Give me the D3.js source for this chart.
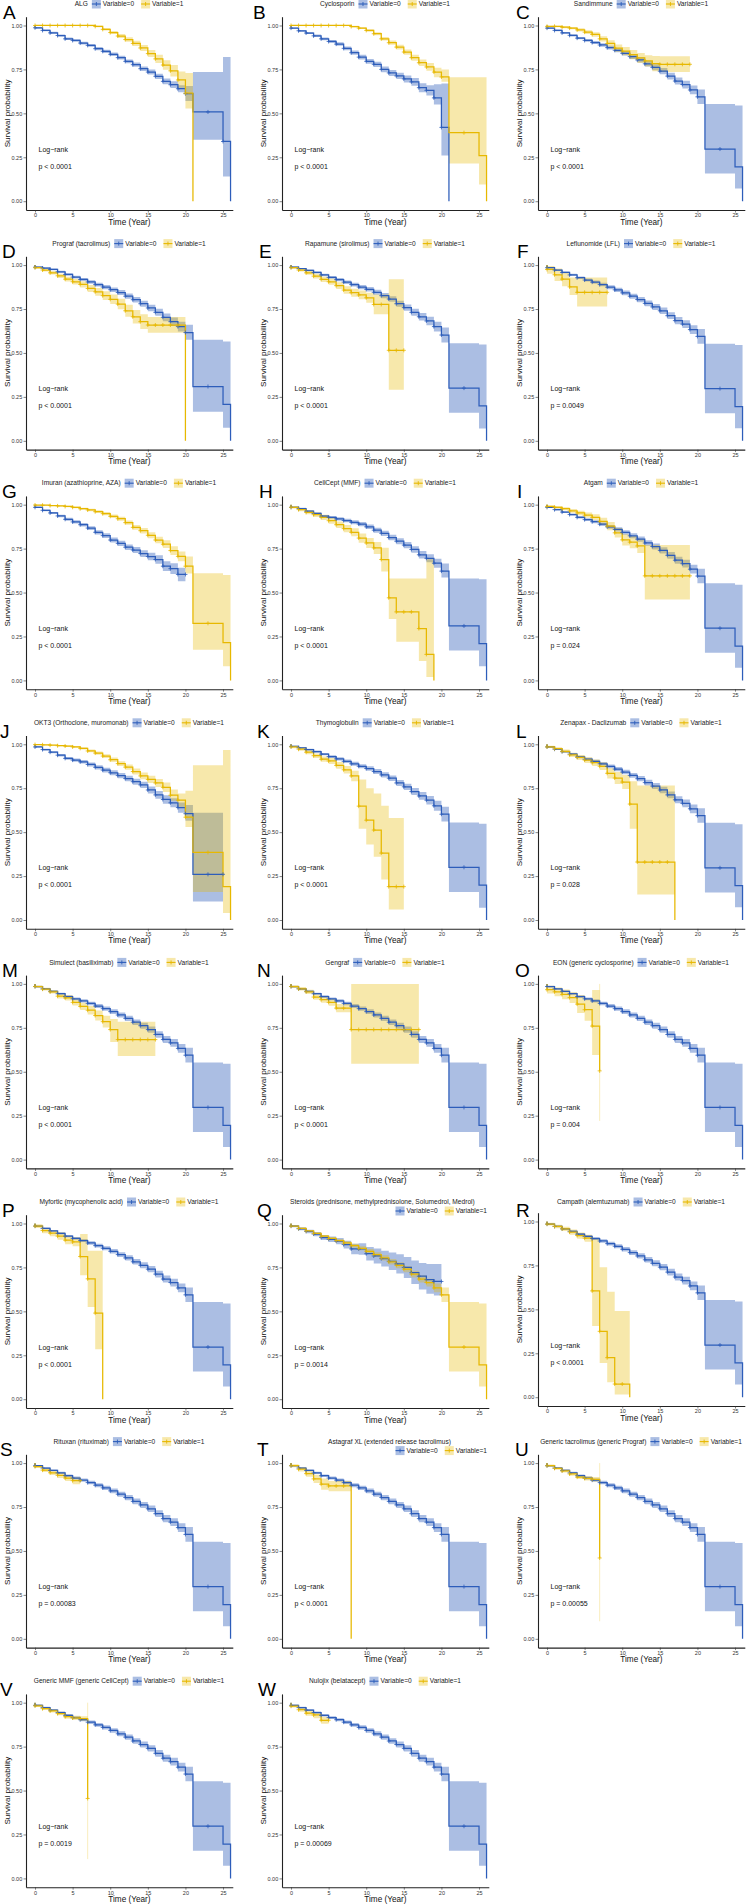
<!DOCTYPE html>
<html>
<head>
<meta charset="utf-8">
<script src="https://cdn.jsdelivr.net/npm/d3@7"></script>
<style>
  body { margin: 0; background: #fff; }
  svg { display: block; }
  text { font-family: "Liberation Sans", Arial, Helvetica, sans-serif; }
</style>
</head>
<body>
<svg id="chart" width="746" height="1904"></svg>
<script>
// ---- panel labels ----
const letters = ['A','B','C','D','E','F','G','H','I','J','K','L','M','N','O','P','Q','R','S','T','U','V','W'];
const titles = [
  'ALG', 'Cyclosporin', 'Sandimmune',
  'Prograf (tacrolimus)', 'Rapamune (sirolimus)', 'Leflunomide (LFL)',
  'Imuran (azathioprine, AZA)', 'CellCept (MMF)', 'Atgam',
  'OKT3 (Orthoclone, muromonab)', 'Thymoglobulin', 'Zenapax - Daclizumab',
  'Simulect (basiliximab)', 'Gengraf', 'EON (generic cyclosporine)',
  'Myfortic (mycophenolic acid)', 'Steroids (prednisone, methylprednisolone, Solumedrol, Medrol)', 'Campath (alemtuzumab)',
  'Rituxan (rituximab)', 'Astagraf XL (extended release tacrolimus)', 'Generic tacrolimus (generic Prograf)',
  'Generic MMF (generic CellCept)', 'Nulojix (belatacept)'
];
const pvals = [
  'p < 0.0001', 'p < 0.0001', 'p < 0.0001',
  'p < 0.0001', 'p < 0.0001', 'p = 0.0049',
  'p < 0.0001', 'p < 0.0001', 'p = 0.024',
  'p < 0.0001', 'p < 0.0001', 'p = 0.028',
  'p < 0.0001', 'p < 0.0001', 'p = 0.004',
  'p < 0.0001', 'p = 0.0014', 'p < 0.0001',
  'p = 0.00083', 'p < 0.0001', 'p = 0.00055',
  'p = 0.0019', 'p = 0.00069'
];
const xTicks = [0, 5, 10, 15, 20, 25];
const yTicks = [0, 0.25, 0.5, 0.75, 1];

// ---- survival steps: value i holds on [i, i+1) years ----
// shared Variable=0 curve (whole cohort minus a small drug group)
const baseS  = [0.985,0.972,0.958,0.944,0.928,0.915,0.903,0.889,0.874,0.859,0.842,0.823,0.804,0.782,0.762,0.740,0.712,0.684,0.664,0.633,0.594,0.297,0.297,0.297,0.297,0.195];
const baseLo = [0.981,0.967,0.953,0.938,0.921,0.907,0.894,0.879,0.863,0.847,0.829,0.809,0.789,0.766,0.745,0.722,0.693,0.664,0.642,0.608,0.553,0.157,0.157,0.157,0.157,0.072];
const baseHi = [0.989,0.977,0.963,0.950,0.935,0.923,0.912,0.899,0.885,0.871,0.855,0.837,0.819,0.798,0.779,0.758,0.731,0.704,0.686,0.658,0.636,0.553,0.553,0.553,0.553,0.545];
const baseCens = [0,1,2,3,4,5,6,7,8,9,10,11,12,13,14,15,16,17,18,19,20,23];

const A0s  = [0.987,0.972,0.958,0.943,0.924,0.915,0.900,0.887,0.868,0.853,0.836,0.817,0.796,0.777,0.754,0.735,0.711,0.682,0.663,0.640,0.612,0.508,0.508,0.508,0.508,0.340];
const A0lo = [0.983,0.967,0.952,0.937,0.917,0.908,0.892,0.879,0.859,0.844,0.826,0.806,0.785,0.765,0.741,0.721,0.696,0.665,0.644,0.620,0.570,0.350,0.350,0.350,0.350,0.140];
const A0hi = [0.991,0.977,0.964,0.949,0.931,0.922,0.908,0.895,0.877,0.862,0.846,0.828,0.807,0.789,0.767,0.749,0.726,0.699,0.682,0.660,0.655,0.735,0.735,0.735,0.735,0.820];
const A0cens = [0,1,2,3,4,5,6,7,8,9,10,11,12,13,14,15,16,17,18,19,20,23,25];
const A1s  = [1,1,1,1,1,1,1,1,0.995,0.978,0.960,0.940,0.920,0.898,0.872,0.840,0.810,0.775,0.742,0.690,0.615];
const A1lo = [0.999,0.999,0.999,0.999,0.998,0.998,0.997,0.996,0.990,0.971,0.951,0.929,0.907,0.883,0.855,0.820,0.787,0.748,0.710,0.645,0.527];
const A1hi = [1,1,1,1,1,1,1,1,0.999,0.985,0.969,0.951,0.933,0.913,0.889,0.860,0.833,0.802,0.775,0.738,0.730];
const A1cens = [0,1,2,3,4,5,6,7,8,9,10,11,12,13,14,15,16,17,18,19,20];

const B0s  = [0.985,0.970,0.957,0.941,0.924,0.909,0.894,0.870,0.845,0.820,0.796,0.779,0.750,0.730,0.713,0.696,0.679,0.646,0.631,0.588,0.420];
const B0lo = [0.981,0.965,0.951,0.934,0.916,0.900,0.884,0.859,0.833,0.807,0.782,0.764,0.734,0.713,0.695,0.676,0.657,0.620,0.602,0.550,0.260];
const B0hi = [0.989,0.975,0.963,0.948,0.932,0.918,0.904,0.881,0.857,0.833,0.810,0.794,0.766,0.747,0.731,0.716,0.701,0.672,0.660,0.665,0.670];
const B0cens = [0,1,2,3,4,5,6,7,8,9,10,11,12,13,14,15,16,17,18,19,20];
const B1s  = [1,1,1,1,1,1,1,1,0.994,0.985,0.972,0.953,0.924,0.902,0.877,0.849,0.817,0.788,0.764,0.735,0.707,0.390,0.390,0.390,0.390,0.260];
const B1lo = [0.999,0.999,0.999,0.999,0.999,0.998,0.998,0.997,0.990,0.980,0.965,0.945,0.914,0.890,0.864,0.834,0.800,0.769,0.742,0.705,0.680,0.215,0.215,0.215,0.215,0.095];
const B1hi = [1,1,1,1,1,1,1,1,0.998,0.990,0.979,0.961,0.934,0.914,0.890,0.864,0.834,0.807,0.786,0.760,0.750,0.705,0.705,0.705,0.705,0.705];
const B1cens = [0,1,2,3,4,5,6,7,8,9,10,11,12,13,14,15,16,17,18,19,20,23];

const C1s  = [0.995,0.995,0.990,0.985,0.975,0.962,0.949,0.924,0.898,0.871,0.854,0.834,0.815,0.798,0.783,0.779,0.779,0.779,0.779];
const C1lo = [0.991,0.990,0.984,0.978,0.966,0.951,0.936,0.909,0.880,0.850,0.830,0.808,0.786,0.766,0.740,0.735,0.735,0.735,0.735];
const C1hi = [0.999,0.999,0.996,0.992,0.984,0.973,0.962,0.939,0.916,0.892,0.878,0.860,0.844,0.830,0.826,0.825,0.825,0.825,0.825];
const C1cens = [0,1,2,3,4,5,6,7,8,9,10,11,12,13,14,15,16,17,18,19];

const D0s  = [0.988,0.983,0.975,0.962,0.947,0.932,0.918,0.904,0.889,0.875,0.860,0.844,0.823,0.803,0.780,0.756,0.731,0.703,0.678,0.650,0.616,0.309,0.309,0.309,0.309,0.208];
const D0lo = [0.984,0.979,0.970,0.956,0.940,0.924,0.909,0.894,0.878,0.863,0.847,0.830,0.808,0.787,0.763,0.738,0.711,0.681,0.654,0.622,0.575,0.165,0.165,0.165,0.165,0.075];
const D0hi = [0.992,0.987,0.980,0.968,0.954,0.940,0.927,0.914,0.900,0.887,0.873,0.858,0.838,0.819,0.797,0.774,0.751,0.725,0.702,0.678,0.660,0.575,0.575,0.575,0.575,0.565];
const D1s  = [0.985,0.972,0.956,0.939,0.920,0.905,0.890,0.867,0.848,0.826,0.805,0.778,0.740,0.706,0.678,0.659,0.659,0.659,0.659,0.659];
const D1lo = [0.978,0.963,0.946,0.927,0.906,0.889,0.872,0.847,0.826,0.801,0.778,0.748,0.706,0.668,0.636,0.615,0.615,0.615,0.615,0.615];
const D1hi = [0.992,0.981,0.966,0.951,0.934,0.921,0.908,0.887,0.870,0.851,0.832,0.808,0.774,0.744,0.720,0.705,0.705,0.705,0.705,0.705];
const D1cens = [0,1,2,3,4,5,6,7,8,9,10,11,12,13,14,15,16,17,18,19];

const E0s  = [0.988,0.980,0.970,0.958,0.944,0.930,0.917,0.903,0.889,0.875,0.862,0.845,0.826,0.807,0.780,0.758,0.731,0.706,0.682,0.650,0.602,0.300,0.300,0.300,0.300,0.199];
const E0lo = [0.984,0.976,0.965,0.952,0.937,0.922,0.908,0.893,0.878,0.863,0.849,0.831,0.811,0.791,0.763,0.740,0.711,0.684,0.658,0.622,0.560,0.160,0.160,0.160,0.160,0.070];
const E0hi = [0.992,0.984,0.975,0.964,0.951,0.938,0.926,0.913,0.900,0.887,0.875,0.859,0.841,0.823,0.797,0.776,0.751,0.728,0.706,0.678,0.645,0.555,0.555,0.555,0.555,0.548];
const E1s  = [0.985,0.972,0.956,0.937,0.919,0.905,0.883,0.858,0.843,0.830,0.814,0.776,0.776,0.515,0.515];
const E1lo = [0.978,0.963,0.945,0.924,0.904,0.888,0.864,0.837,0.820,0.805,0.786,0.720,0.720,0.290,0.290];
const E1hi = [0.992,0.981,0.967,0.950,0.934,0.922,0.902,0.879,0.866,0.855,0.842,0.832,0.832,0.920,0.920];
const E1cens = [0,1,2,3,4,5,6,7,8,9,10,11,12,13,14,15];

const F1s  = [0.975,0.945,0.920,0.876,0.845,0.845,0.845,0.845];
const F1lo = [0.950,0.910,0.880,0.830,0.765,0.765,0.765,0.765];
const F1hi = [0.995,0.980,0.960,0.930,0.930,0.930,0.930,0.930];
const F1cens = [0,1,2,3,4,5,6,7,8];

const G0s  = [0.985,0.968,0.953,0.936,0.917,0.902,0.886,0.867,0.843,0.824,0.799,0.780,0.758,0.742,0.722,0.705,0.688,0.650,0.636,0.603];
const G0lo = [0.981,0.963,0.947,0.929,0.909,0.893,0.876,0.856,0.831,0.811,0.785,0.765,0.742,0.725,0.703,0.684,0.664,0.622,0.605,0.565];
const G0hi = [0.989,0.973,0.959,0.943,0.925,0.911,0.896,0.878,0.855,0.837,0.813,0.795,0.774,0.759,0.741,0.726,0.712,0.678,0.667,0.641];
const G0cens = [0,1,2,3,4,5,6,7,8,9,10,11,12,13,14,15,16,17,18,19,20];
const G1s  = [0.998,0.997,0.995,0.993,0.990,0.985,0.977,0.970,0.960,0.949,0.934,0.920,0.898,0.871,0.852,0.826,0.799,0.775,0.739,0.706,0.650,0.325,0.325,0.325,0.325,0.215];
const G1lo = [0.996,0.995,0.993,0.990,0.986,0.980,0.971,0.963,0.952,0.940,0.924,0.909,0.886,0.857,0.836,0.809,0.780,0.753,0.714,0.678,0.608,0.175,0.175,0.175,0.175,0.080];
const G1hi = [1,0.999,0.998,0.996,0.994,0.990,0.983,0.977,0.968,0.958,0.944,0.931,0.910,0.885,0.868,0.843,0.818,0.797,0.764,0.734,0.705,0.610,0.610,0.610,0.610,0.600];

const H0s  = [0.985,0.978,0.963,0.950,0.935,0.928,0.919,0.910,0.900,0.890,0.874,0.855,0.837,0.813,0.792,0.770,0.745,0.715,0.695,0.667,0.622,0.310,0.310,0.310,0.310,0.210];
const H0lo = [0.981,0.974,0.958,0.944,0.928,0.920,0.910,0.900,0.889,0.878,0.861,0.841,0.822,0.797,0.775,0.752,0.726,0.694,0.672,0.641,0.585,0.170,0.170,0.170,0.170,0.080];
const H0hi = [0.989,0.982,0.968,0.956,0.942,0.936,0.928,0.920,0.911,0.902,0.887,0.869,0.852,0.829,0.809,0.788,0.764,0.736,0.718,0.693,0.665,0.580,0.580,0.580,0.580,0.575];
const H1s  = [0.985,0.972,0.956,0.943,0.928,0.909,0.886,0.864,0.843,0.810,0.782,0.754,0.688,0.470,0.390,0.390,0.390,0.295,0.148];
const H1lo = [0.978,0.963,0.945,0.930,0.913,0.892,0.867,0.843,0.820,0.784,0.753,0.720,0.620,0.350,0.220,0.220,0.220,0.110,0.020];
const H1hi = [0.992,0.981,0.967,0.956,0.943,0.926,0.905,0.885,0.866,0.836,0.811,0.788,0.755,0.580,0.580,0.580,0.580,0.580,0.690];
const H1cens = [0,1,2,3,4,5,6,7,8,9,10,11,12,13,14,15,16,17,18];

const I1s  = [0.990,0.985,0.977,0.965,0.953,0.940,0.928,0.905,0.878,0.840,0.800,0.787,0.765,0.595,0.595,0.595,0.595,0.595,0.595];
const I1lo = [0.984,0.978,0.968,0.954,0.940,0.925,0.911,0.885,0.855,0.813,0.768,0.752,0.725,0.460,0.460,0.460,0.460,0.460,0.460];
const I1hi = [0.996,0.992,0.986,0.976,0.966,0.955,0.945,0.925,0.901,0.867,0.832,0.822,0.805,0.770,0.770,0.770,0.770,0.770,0.770];

const J0s  = [0.985,0.970,0.955,0.938,0.920,0.910,0.900,0.885,0.869,0.853,0.838,0.822,0.805,0.787,0.769,0.740,0.712,0.686,0.667,0.640,0.605,0.260,0.260,0.260,0.260];
const J0lo = [0.981,0.965,0.949,0.931,0.912,0.901,0.890,0.874,0.857,0.840,0.824,0.807,0.789,0.770,0.751,0.720,0.690,0.662,0.641,0.611,0.565,0.105,0.105,0.105,0.105];
const J0hi = [0.989,0.975,0.961,0.945,0.928,0.919,0.910,0.896,0.881,0.866,0.852,0.837,0.821,0.804,0.787,0.760,0.734,0.710,0.693,0.669,0.655,0.610,0.610,0.610,0.610];
const J1s  = [0.998,0.997,0.995,0.992,0.990,0.985,0.977,0.962,0.950,0.933,0.912,0.890,0.870,0.845,0.820,0.800,0.780,0.755,0.710,0.682,0.585,0.385,0.385,0.385,0.385,0.190];
const J1lo = [0.996,0.995,0.993,0.989,0.986,0.980,0.971,0.954,0.941,0.922,0.899,0.876,0.855,0.828,0.801,0.779,0.757,0.728,0.678,0.645,0.530,0.160,0.160,0.160,0.160,0.040];
const J1hi = [1,0.999,0.998,0.995,0.994,0.990,0.983,0.970,0.959,0.944,0.925,0.904,0.885,0.862,0.839,0.821,0.803,0.782,0.742,0.720,0.735,0.880,0.880,0.880,0.880,0.967];

const K1s  = [0.985,0.972,0.955,0.935,0.915,0.905,0.880,0.855,0.820,0.648,0.568,0.512,0.381,0.190,0.190];
const K1lo = [0.978,0.963,0.944,0.922,0.900,0.888,0.861,0.834,0.790,0.520,0.430,0.360,0.230,0.060,0.060];
const K1hi = [0.992,0.981,0.966,0.948,0.930,0.922,0.899,0.876,0.850,0.800,0.750,0.720,0.650,0.580,0.580];

const L1s  = [0.985,0.975,0.960,0.940,0.925,0.910,0.895,0.875,0.835,0.808,0.785,0.660,0.330,0.330,0.330,0.330,0.330];
const L1lo = [0.979,0.967,0.950,0.928,0.911,0.894,0.877,0.853,0.806,0.774,0.745,0.520,0.145,0.145,0.145,0.145,0.145];
const L1hi = [0.991,0.983,0.970,0.952,0.939,0.926,0.913,0.897,0.864,0.842,0.825,0.790,0.765,0.765,0.765,0.765,0.765];
const L1cens = [0,1,2,3,4,5,6,7,8,9,10,11,12,13,14,15,16];

const M1s  = [0.985,0.970,0.955,0.930,0.920,0.895,0.872,0.850,0.820,0.785,0.740,0.683,0.683,0.683,0.683,0.683];
const M1lo = [0.979,0.962,0.945,0.917,0.905,0.877,0.851,0.826,0.792,0.752,0.670,0.590,0.590,0.590,0.590,0.590];
const M1hi = [0.991,0.978,0.965,0.943,0.935,0.913,0.893,0.874,0.848,0.818,0.800,0.785,0.785,0.785,0.785,0.785];

const N1s  = [0.985,0.972,0.955,0.925,0.910,0.895,0.862,0.862,0.740,0.740,0.740,0.740,0.740,0.740,0.740,0.740,0.740];
const N1lo = [0.978,0.962,0.943,0.910,0.893,0.876,0.838,0.838,0.545,0.545,0.545,0.545,0.545,0.545,0.545,0.545,0.545];
const N1hi = [0.992,0.982,0.967,0.940,0.927,0.914,0.886,0.886,1,1,1,1,1,1,1,1,1];
const N1cens = [0,1,2,3,4,5,6,7,8,9,10,11,12,13,14,15,16,17];

const O1s  = [0.967,0.955,0.940,0.922,0.885,0.853,0.760,0.505];
const O1lo = [0.945,0.930,0.912,0.891,0.835,0.790,0.595,0.220];
const O1hi = [0.990,0.980,0.968,0.953,0.935,0.916,0.965,1];
const cens0to7 = [0,1,2,3,4,5,6,7];

const P1s  = [0.985,0.960,0.945,0.928,0.905,0.895,0.812,0.685,0.490];
const P1lo = [0.975,0.945,0.928,0.908,0.882,0.870,0.705,0.525,0.285];
const P1hi = [0.995,0.975,0.962,0.948,0.928,0.920,0.940,0.845,0.845];
const P1cens = [0,1,2,3,4,5,6,7,8];

const Q0s  = [0.985,0.970,0.955,0.940,0.920,0.910,0.900,0.880,0.855,0.855,0.828,0.815,0.800,0.785,0.770,0.750,0.720,0.700,0.680,0.670];
const Q0lo = [0.978,0.962,0.945,0.928,0.906,0.894,0.882,0.858,0.825,0.822,0.790,0.773,0.755,0.735,0.715,0.690,0.655,0.625,0.600,0.590];
const Q0hi = [0.992,0.978,0.965,0.952,0.934,0.926,0.918,0.902,0.885,0.888,0.866,0.857,0.845,0.835,0.825,0.810,0.790,0.775,0.770,0.770];

const R1s  = [0.985,0.972,0.958,0.940,0.920,0.905,0.605,0.375,0.225,0.075,0.075];
const R1lo = [0.977,0.962,0.946,0.925,0.902,0.885,0.405,0.195,0.085,0.015,0.015];
const R1hi = [0.993,0.982,0.970,0.955,0.938,0.925,0.900,0.740,0.600,0.490,0.490];
const R1cens = [0,1,2,3,4,5,6,7,8,9,10];

const S1s  = [0.980,0.960,0.945,0.930,0.915,0.900];
const S1lo = [0.972,0.949,0.932,0.915,0.898,0.880];
const S1hi = [0.988,0.971,0.958,0.945,0.932,0.920];
const S1cens = [0,1,2,3,4,5,6];

const T1s  = [0.985,0.965,0.940,0.910,0.880,0.870,0.870,0.870];
const T1lo = [0.976,0.952,0.922,0.886,0.848,0.840,0.840,0.840];
const T1hi = [0.994,0.978,0.958,0.934,0.912,0.898,0.898,0.898];

const U1s  = [0.985,0.970,0.955,0.938,0.920,0.913,0.908,0.460];
const U1lo = [0.978,0.962,0.946,0.928,0.909,0.901,0.895,0.100];
const U1hi = [0.992,0.978,0.964,0.948,0.931,0.925,0.921,1];

const V1s  = [0.982,0.966,0.953,0.938,0.920,0.913,0.910,0.455];
const V1lo = [0.975,0.958,0.944,0.928,0.909,0.901,0.897,0.110];
const V1hi = [0.989,0.974,0.962,0.948,0.931,0.925,0.923,1];

const W1s  = [0.980,0.960,0.940,0.930,0.900];
const W1lo = [0.972,0.948,0.925,0.912,0.880];
const W1hi = [0.988,0.972,0.955,0.946,0.920];
const W1cens = [0,1,2,3,4,5];

// series table: end = last time, zero = final drop to 0
function ser(s, lo, hi, end, zero, cens) {
  return { s, lo, hi, end, zero, cens };
}
const base = ser(baseS, baseLo, baseHi, 26, true, baseCens);
const dE0 = ser(E0s, E0lo, E0hi, 26, true, baseCens);
const ref = [
  ser(A0s, A0lo, A0hi, 26, true, A0cens), ser(B0s, B0lo, B0hi, 21, true, B0cens), base,
  ser(D0s, D0lo, D0hi, 26, true, baseCens), dE0, base,
  ser(G0s, G0lo, G0hi, 20, false, G0cens), ser(H0s, H0lo, H0hi, 26, true, baseCens), base,
  ser(J0s, J0lo, J0hi, 25, false, A0cens), dE0, base,
  base, base, base,
  base, ser(Q0s, Q0lo, Q0hi, 20, false, G0cens), base,
  base, base, base,
  base, base
];
const trt = [
  ser(A1s, A1lo, A1hi, 21, true, A1cens), ser(B1s, B1lo, B1hi, 26, true, B1cens), ser(C1s, C1lo, C1hi, 19, false, C1cens),
  ser(D1s, D1lo, D1hi, 20, true, D1cens), ser(E1s, E1lo, E1hi, 15, false, E1cens), ser(F1s, F1lo, F1hi, 8, false, F1cens),
  ser(G1s, G1lo, G1hi, 26, true, B1cens), ser(H1s, H1lo, H1hi, 19, true, H1cens), ser(I1s, I1lo, I1hi, 19, false, C1cens),
  ser(J1s, J1lo, J1hi, 26, true, B1cens), ser(K1s, K1lo, K1hi, 15, false, E1cens), ser(L1s, L1lo, L1hi, 17, true, L1cens),
  ser(M1s, M1lo, M1hi, 16, false, L1cens), ser(N1s, N1lo, N1hi, 17, false, N1cens), ser(O1s, O1lo, O1hi, 7, false, cens0to7),
  ser(P1s, P1lo, P1hi, 9, true, P1cens), base, ser(R1s, R1lo, R1hi, 11, true, R1cens),
  ser(S1s, S1lo, S1hi, 6, false, S1cens), ser(T1s, T1lo, T1hi, 8, true, cens0to7), ser(U1s, U1lo, U1hi, 7, false, cens0to7),
  ser(V1s, V1lo, V1hi, 7, false, cens0to7), ser(W1s, W1lo, W1hi, 5, false, W1cens)
];

// ---- layout ----
const cellW = 256, cellH = 239.6;
const blue = '#2D5DBA', yellow = '#E7B800';
const letterX = [3,-3,4, 2,3,5, 2,3,5, 0,1,4, 2,1,3, 2,1,4, 0,1,3, 0,2];
const wrapTitleX = { Q: 34, T: 72 };
const plotShift = { R: -2 };

const x = d3.scaleLinear().domain([-1.2, 26.3]).range([26, 232.8]);
const y = d3.scaleLinear().domain([-0.05, 1.05]).range([210, 16.7]);

const stepLine = d3.line().x(d => x(d[0])).y(d => y(d[1])).curve(d3.curveStepAfter);
const stepBand = d3.area().x(d => x(d[0])).y0(d => y(d[1])).y1(d => y(d[2])).curve(d3.curveStepAfter);

const svg = d3.select('#chart');

function drawKey(g, kx, ky, color, op) {
  g.append('rect').attr('x', kx).attr('y', ky - 4.5).attr('width', 9).attr('height', 9)
    .attr('fill', color).attr('fill-opacity', op);
  g.append('line').attr('x1', kx).attr('x2', kx + 9).attr('y1', ky).attr('y2', ky)
    .attr('stroke', color).attr('stroke-width', 1.1);
  g.append('line').attr('x1', kx + 4.5).attr('x2', kx + 4.5).attr('y1', ky - 2).attr('y2', ky + 2)
    .attr('stroke', color).attr('stroke-width', 0.9);
}

function drawLegend(g, title, wrapX) {
  const lg = g.append('g').attr('font-size', 6.6).attr('fill', '#1a1a1a');
  const tt = lg.append('text').text(title);
  const t0 = lg.append('text').text('Variable=0');
  const t1 = lg.append('text').text('Variable=1');
  const wT = tt.node().getComputedTextLength();
  const w0 = t0.node().getComputedTextLength();
  const w1 = t1.node().getComputedTextLength();
  const keysW = 11 + w0 + 7 + 11 + w1;
  let tx, ty, kx, ky;
  if (wrapX === undefined) {
    const total = wT + 4 + keysW;
    tx = 129 - total / 2; ty = 4;
    kx = tx + wT + 4; ky = 4;
  } else {
    tx = wrapX; ty = 4;
    kx = 231 - keysW; ky = 13;
  }
  tt.attr('x', tx).attr('y', ty + 2.3);
  drawKey(lg, kx, ky, blue, 0.4);
  t0.attr('x', kx + 11).attr('y', ky + 2.3);
  const k2 = kx + 11 + w0 + 7;
  drawKey(lg, k2, ky, yellow, 0.33);
  t1.attr('x', k2 + 11).attr('y', ky + 2.3);
}

function valueAt(d, t) {
  return d.s[Math.min(t, d.s.length - 1)];
}

letters.forEach((letter, i) => {
  const col = i % 3, row = Math.floor(i / 3);
  const g = svg.append('g').attr('transform', `translate(${col * cellW},${row * cellH})`);
  const p = g.append('g').attr('transform', `translate(0,${plotShift[letter] || 0})`);

  // axes
  const xa = p.append('g').attr('transform', 'translate(0,210)')
    .call(d3.axisBottom(x).tickValues(xTicks).tickSize(2.5).tickSizeOuter(0).tickPadding(1));
  const ya = p.append('g').attr('transform', 'translate(26,0)')
    .call(d3.axisLeft(y).tickValues(yTicks).tickFormat(d3.format('.2f')).tickSize(2.5).tickSizeOuter(0).tickPadding(1.3));
  [xa, ya].forEach(a => {
    a.select('.domain').attr('stroke', '#222').attr('stroke-width', 1.1);
    a.selectAll('.tick line').attr('stroke', '#333').attr('stroke-width', 0.6);
    a.selectAll('.tick text').attr('font-size', 5.5).attr('fill', '#333')
      .attr('font-family', '"Liberation Sans", Arial, sans-serif');
  });

  const groups = [
    { d: ref[i], color: blue, op: 0.4 },
    { d: trt[i], color: yellow, op: 0.33 }
  ];

  // confidence bands
  groups.forEach(({ d, color, op }) => {
    const n = d.s.length;
    const pts = d.s.map((v, k) => [k, d.lo[k], d.hi[k]]);
    pts.push([d.end, d.lo[n - 1], d.hi[n - 1]]);
    p.append('path').attr('d', stepBand(pts)).attr('fill', color).attr('fill-opacity', op);
    if (d.end === n - 1) {
      // last interval has no width: thin vertical band
      p.append('line').attr('x1', x(d.end)).attr('x2', x(d.end))
        .attr('y1', y(d.hi[n - 1])).attr('y2', y(d.lo[n - 1]))
        .attr('stroke', color).attr('stroke-opacity', op).attr('stroke-width', 0.8);
    }
  });

  // survival steps
  groups.forEach(({ d, color }) => {
    const n = d.s.length;
    const pts = [[0, 1]].concat(d.s.map((v, k) => [k, v]));
    pts.push([d.end, d.s[n - 1]]);
    if (d.zero) pts.push([d.end, 0]);
    p.append('path').attr('d', stepLine(pts)).attr('fill', 'none')
      .attr('stroke', color).attr('stroke-width', 1.25);
  });

  // censor marks
  groups.forEach(({ d, color }) => {
    p.append('g').selectAll('path').data(d.cens).join('path')
      .attr('d', t => {
        const cx = x(t), cy = y(valueAt(d, t));
        return `M${cx - 2},${cy}H${cx + 2}M${cx},${cy - 2}V${cy + 2}`;
      })
      .attr('stroke', color).attr('stroke-width', 0.8);
  });

  // titles and annotations
  p.append('text').attr('x', 129.4).attr('y', 224.5).attr('text-anchor', 'middle')
    .attr('font-size', 8.2).attr('fill', '#111').text('Time (Year)');
  p.append('text').attr('transform', 'translate(10,113.4) rotate(-90)').attr('text-anchor', 'middle')
    .attr('font-size', 8.1).attr('fill', '#111').text('Survival probability');
  p.append('text').attr('x', 38.5).attr('y', 151.5).attr('font-size', 7).attr('fill', '#111')
    .text('Log\u2212rank');
  p.append('text').attr('x', 38.5).attr('y', 168.5).attr('font-size', 7).attr('fill', '#111')
    .text(pvals[i]);

  drawLegend(g, titles[i], wrapTitleX[letter]);

  g.append('text').attr('x', letterX[i]).attr('y', 18.8).attr('font-size', 19).attr('fill', '#000')
    .text(letter);
});
</script>
</body>
</html>
